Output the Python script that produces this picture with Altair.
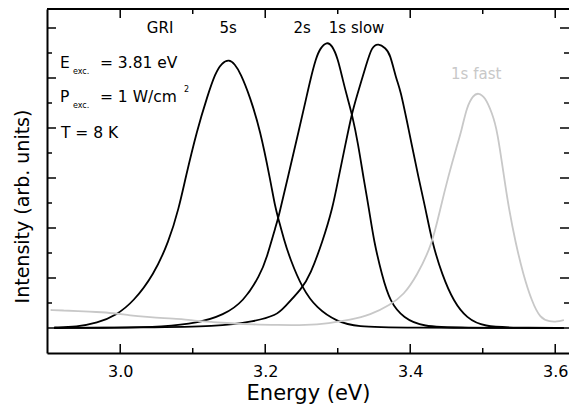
import altair as alt
import pandas as pd

# ---- data ----
series_names = ["5s", "2s", "1s slow", "1s fast"]
series_colors = ["#000000", "#000000", "#000000", "#c8c8c8"]

e_5s = [2.909, 2.940, 2.968, 2.995, 3.018, 3.046, 3.067, 3.081, 3.090, 3.106, 3.120, 3.131, 3.140,
        3.150, 3.158, 3.166, 3.179, 3.193, 3.207, 3.214, 3.218, 3.226, 3.234, 3.251, 3.271, 3.299,
        3.327, 3.382, 3.609]
i_5s = [0.02, 0.05, 0.19, 0.52, 1.05, 2.12, 3.45, 4.80, 6.00, 7.92, 9.25, 10.19, 10.60,
        10.75, 10.56, 10.19, 9.25, 7.92, 5.92, 4.80, 4.39, 3.52, 2.79, 1.59, 0.79, 0.25,
        0.05, 0.01, 0.0]

e_2s = [2.909, 2.995, 3.060, 3.106, 3.143, 3.170, 3.193, 3.202, 3.215, 3.218, 3.232, 3.2465, 3.257,
        3.262, 3.270, 3.276, 3.285, 3.292, 3.300, 3.307, 3.313, 3.320, 3.328, 3.336, 3.343, 3.350,
        3.361, 3.372, 3.391, 3.418, 3.464, 3.609]
i_2s = [0.0, 0.01, 0.05, 0.19, 0.52, 1.05, 2.12, 2.79, 4.12, 4.39, 6.12, 7.92, 9.25,
        9.90, 10.80, 11.20, 11.45, 11.32, 10.80, 9.92, 9.25, 8.52, 7.39, 5.92, 4.79, 3.45,
        2.12, 1.05, 0.39, 0.05, 0.01, 0.0]

e_1s_slow = [2.909, 3.037, 3.133, 3.184, 3.216, 3.225, 3.251, 3.262, 3.279, 3.293, 3.301, 3.310,
             3.319, 3.326, 3.340, 3.347, 3.356, 3.366, 3.372, 3.381, 3.386, 3.398, 3.412, 3.421,
             3.430, 3.444, 3.460, 3.478, 3.501, 3.547, 3.612]
i_1s_slow = [0.0, 0.02, 0.06, 0.25, 0.52, 0.79, 1.59, 2.12, 3.45, 4.79, 6.00, 7.25,
             8.52, 9.25, 10.59, 11.25, 11.39, 11.19, 10.99, 9.92, 9.59, 7.92, 5.92, 4.79,
             3.45, 2.12, 1.05, 0.39, 0.05, 0.01, 0.0]

e_1s_fast = [2.904, 2.922, 2.940, 2.968, 2.990, 3.014, 3.037, 3.060, 3.085, 3.106, 3.128, 3.152,
             3.182, 3.216, 3.257, 3.288, 3.317, 3.345, 3.372, 3.391, 3.409, 3.430, 3.441, 3.453,
             3.464, 3.471, 3.478, 3.487, 3.494, 3.503, 3.513, 3.520, 3.530, 3.536, 3.545, 3.556,
             3.568, 3.579, 3.593, 3.602, 3.612]
i_1s_fast = [0.72, 0.70, 0.68, 0.64, 0.60, 0.50, 0.44, 0.39, 0.36, 0.28, 0.24, 0.19,
             0.14, 0.12, 0.11, 0.19, 0.32, 0.52, 0.92, 1.32, 2.08, 3.32, 4.72, 6.12,
             7.25, 7.92, 8.85, 9.32, 9.41, 9.25, 8.59, 7.92, 5.92, 4.79, 3.45, 2.12,
             1.05, 0.39, 0.25, 0.25, 0.32]

x_major = [3.0, 3.2, 3.4, 3.6]
x_minor = [3.1, 3.3, 3.5]
y_major = [0, 2, 4, 6, 8, 10, 12]
y_minor = [1, 3, 5, 7, 9, 11]

peak_labels = ["GRI", "5s", "2s", "1s slow"]
peak_label_x = [3.055, 3.149, 3.251, 3.326]
peak_label_y = [12.0, 12.0, 12.0, 12.0]

fast_label = ["1s fast"]
fast_label_x = [3.491]
fast_label_y = [10.16]

info_text = ["E", "= 3.81 eV", "P", "= 1 W/cm", "T = 8 K"]
info_x = [2.9168, 2.972, 2.9168, 2.972, 2.9182]
info_y = [10.6, 10.6, 9.24, 9.24, 7.8]

small_text = ["exc.", "exc.", "2"]
small_x = [2.9348, 2.9348, 3.088]
small_y = [10.24, 8.88, 9.52]

# ---- build tables ----
rows = []
for name, es, ints in zip(series_names, [e_5s, e_2s, e_1s_slow, e_1s_fast],
                          [i_5s, i_2s, i_1s_slow, i_1s_fast]):
    for k, (e, v) in enumerate(zip(es, ints)):
        rows.append({"series": name, "E": e, "I": v, "k": k})
df = pd.DataFrame(rows)

W, H = 522, 344
FONT = "DejaVu Sans"
X0 = 2.899
xs = alt.Scale(domain=[X0, X0 + W / 725.0], nice=False, zero=False)
ys = alt.Scale(domain=[-1, 12.76], nice=False, zero=False)

lines = alt.Chart(df).mark_line(strokeWidth=1.8, interpolate="basis").encode(
    x=alt.X("E:Q", scale=xs, axis=alt.Axis(
        values=x_major, format=".1f", ticks=False, tickSize=0, grid=False,
        domain=True, domainColor="black", domainWidth=2,
        labelFont=FONT, labelFontSize=16, labelColor="black",
        labelBaseline="middle", labelPadding=18,
        title="Energy (eV)", titleFont=FONT, titleFontSize=21, titleFontWeight="normal",
        titleColor="black", titleBaseline="middle", titleY=40)),
    y=alt.Y("I:Q", scale=ys, axis=alt.Axis(
        labels=False, ticks=False, tickSize=0, grid=False,
        domain=True, domainColor="black", domainWidth=2,
        title="Intensity (arb. units)", titleFont=FONT, titleFontSize=19,
        titleFontWeight="normal", titleColor="black", titleBaseline="middle",
        titleAlign="center", titleX=-24.5, titleY=197)),
    color=alt.Color("series:N", scale=alt.Scale(domain=series_names, range=series_colors),
                    legend=None),
    order=alt.Order("k:Q"),
)

def vticks(vals, y0, y1):
    return alt.Chart(pd.DataFrame({"v": vals})).mark_rule(color="black", strokeWidth=1.5).encode(
        x=alt.X("v:Q", scale=xs), y=alt.value(y0), y2=alt.value(y1))

def hticks(vals, x0, x1):
    return alt.Chart(pd.DataFrame({"v": vals})).mark_rule(color="black", strokeWidth=1.5).encode(
        y=alt.Y("v:Q", scale=ys), x=alt.value(x0), x2=alt.value(x1))

tick_layers = [
    vticks(x_major, H, H - 9), vticks(x_minor, H, H - 5),
    vticks(x_major, 0, 9), vticks(x_minor, 0, 5),
    hticks(y_major, 0, 9), hticks(y_minor, 0, 5),
    hticks(y_major, W, W - 9), hticks(y_minor, W, W - 5),
]

top_border = alt.Chart(pd.DataFrame({"a": [0]})).mark_rule(color="black", strokeWidth=2).encode(
    x=alt.value(0), x2=alt.value(W), y=alt.value(0))

def texts(labels, xv, yv, size, color="black", align="left"):
    d = pd.DataFrame({"t": labels, "x": xv, "y": yv})
    return alt.Chart(d).mark_text(font=FONT, fontSize=size, color=color, align=align,
                                  baseline="middle").encode(
        x=alt.X("x:Q", scale=xs), y=alt.Y("y:Q", scale=ys), text="t:N")

text_layers = [
    texts(peak_labels, peak_label_x, peak_label_y, 15, align="center"),
    texts(fast_label, fast_label_x, fast_label_y, 15, color="#c8c8c8", align="center"),
    texts(info_text, info_x, info_y, 15.5),
    texts(small_text, small_x, small_y, 8),
]

chart = alt.layer(lines, *tick_layers, top_border, *text_layers).properties(
    width=W, height=H,
    padding={"left": 39, "top": 1, "right": 0, "bottom": 52},
    autosize=alt.AutoSizeParams(type="none"),
).configure_view(stroke=None)

chart.save("out.html", embed_options={"renderer": "svg", "actions": False})
